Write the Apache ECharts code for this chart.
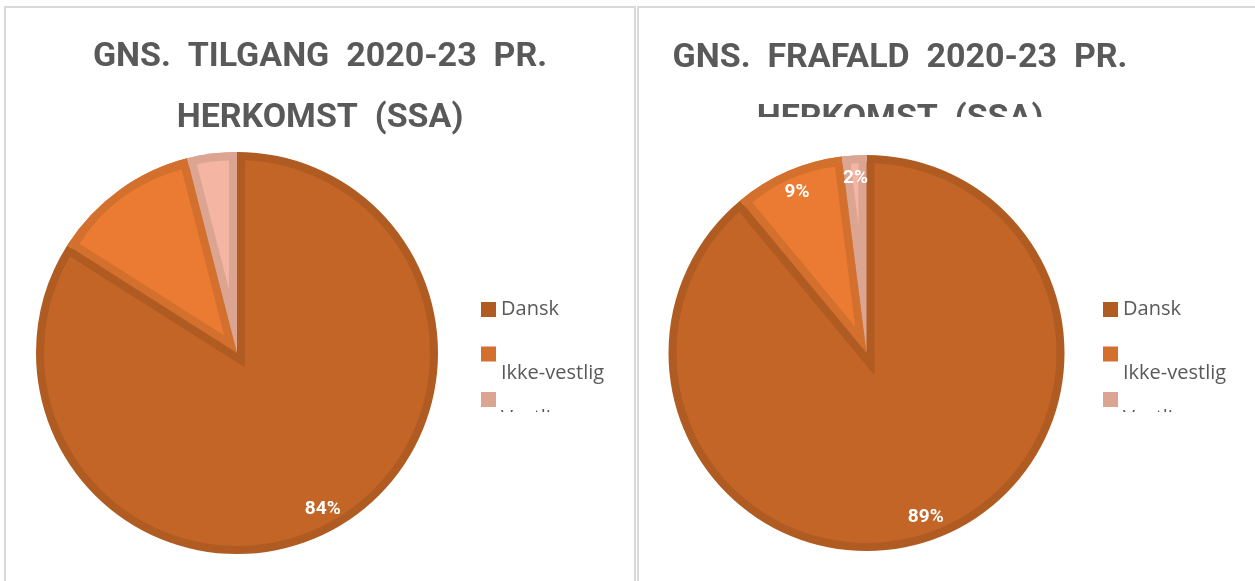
<!DOCTYPE html>
<html>
<head>
<meta charset="utf-8">
<script src="https://cdn.jsdelivr.net/npm/echarts@6/dist/echarts.min.js"></script>
<style>
html, body { margin: 0; padding: 0; width: 1255px; height: 581px; overflow: hidden; background: #fff; }
.panel { position: absolute; top: 6px; height: 600px; border: 2px solid #d9d9d9; border-bottom: none; box-sizing: border-box; }
#p1 { left: 4px; width: 632px; }
#p2 { left: 637px; width: 640px; }
.chart { position: absolute; top: 8px; height: 573px; }
#c1 { left: 6px; width: 628px; }
#c2 { left: 639px; width: 616px; }
</style>
</head>
<body>
<div class="panel" id="p1"></div>
<div class="panel" id="p2"></div>
<div class="chart" id="c1"></div>
<div class="chart" id="c2"></div>
<script>
// data
let categories = ['Dansk', 'Ikke-vestlig', 'Vestlig'];
let tilgangValues = [84, 12, 4];
let frafaldValues = [89, 9, 2];
let tilgangShowLabel = [true, false, false];
let frafaldShowLabel = [true, true, true];
let tilgangTitle = 'GNS.  TILGANG  2020-23  PR.\nHERKOMST  (SSA)';
let frafaldTitle = 'GNS.  FRAFALD  2020-23  PR.\nHERKOMST  (SSA)';

// farver: fyld og kant
let fillColors = ['#c36527', '#eb7b32', '#f4b6a2'];
let edgeColors = ['#b05b22', '#d4702d', '#dca592'];
let none = 'rgba(0,0,0,0)';
let edgePx = 8;

function dirOf(deg) {
    let a = deg * Math.PI / 180;
    return [Math.sin(a), -Math.cos(a)];
}

function pieLayer(center, radius, colors, extra) {
    return Object.assign({
        type: 'pie', silent: true, animation: false,
        center: center, radius: radius,
        startAngle: 90, clockwise: true,
        label: { show: false }, labelLine: { show: false },
        itemStyle: { borderWidth: 0 },
        data: categories.map((n, i) => ({ name: n, value: colors.values[i], itemStyle: { color: colors.c[i] } }))
    }, extra || {});
}

function buildOption(cfg) {
    let v = cfg.values;
    let total = v.reduce((a, b) => a + b, 0);
    let spans = v.map(x => x / total * 360);
    let starts = spans.map((s, i) => spans.slice(0, i).reduce((a, b) => a + b, 0));
    let c = cfg.center, R = cfg.r, Ri = cfg.r - edgePx;
    let series = [];

    // 1: hele cirklen i kantfarver
    series.push(pieLayer(c, [0, R], { values: v, c: edgeColors }));
    // 2: fyld for den store skive
    series.push(pieLayer(c, [0, Ri], { values: v, c: v.map(() => fillColors[0]) }));
    // 3: kant for den store skive langs de små skiver
    let spanC = 360 - spans[0];
    let midC = spans[0] + spanC / 2;
    let dC = edgePx / Math.sin(spanC / 2 * Math.PI / 180);
    let dirC = dirOf(midC);
    series.push(pieLayer([c[0] - dC * dirC[0], c[1] - dC * dirC[1]], [0, Ri + dC],
        { values: v, c: v.map((x, i) => i === 0 ? none : edgeColors[0]) }));
    // 4: de små skiver i kantfarver
    series.push(pieLayer(c, [0, R], { values: v, c: v.map((x, i) => i === 0 ? none : edgeColors[i]) }));
    // 5: fyld for de små skiver (forskudt ind)
    for (let i = 1; i < v.length; i++) {
        let d = edgePx / Math.sin(spans[i] / 2 * Math.PI / 180);
        let dir = dirOf(starts[i] + spans[i] / 2);
        series.push(pieLayer([c[0] + d * dir[0], c[1] + d * dir[1]], [0, Math.max(Ri - d, 0)],
            { values: v, c: v.map((x, j) => j === i ? fillColors[i] : none) }));
    }
    // 6: procent-etiketter
    series.push(pieLayer(c, [Ri - 36, Ri], { values: v, c: v.map(() => none) }, {
        label: {
            show: true, position: 'inside', formatter: '{c}%',
            color: '#fff', fontFamily: 'Roboto', fontWeight: 'bold', fontSize: 19
        },
        data: categories.map((n, i) => ({
            name: n, value: v[i], itemStyle: { color: none },
            label: { show: cfg.showLabel[i] }
        }))
    }));

    let legends = categories.map((n, i) => ({
        left: cfg.legendX, top: cfg.legendTops[i], orient: 'vertical', padding: 0,
        itemWidth: 15, itemHeight: 15, icon: 'rect', selectedMode: false,
        data: [{ name: n, itemStyle: { color: edgeColors[i] } }],
        formatter: i === 0 ? '{name}' : '\n{name}',
        textStyle: { fontFamily: 'Open Sans', fontSize: 20, color: '#595959', lineHeight: i === 0 ? 24 : 38 }
    }));
    return {
        animation: false,
        title: {
            text: cfg.title, left: cfg.titleX, top: cfg.titleTop, textAlign: 'center', padding: 0,
            textStyle: {
                fontFamily: 'Roboto', fontWeight: 'bold', fontSize: 34,
                color: '#595959', lineHeight: cfg.titleLine
            }
        },
        legend: legends,
        graphic: cfg.covers.map(r => ({
            type: 'rect', z: 100, silent: true,
            shape: { x: r[0], y: r[1], width: r[2], height: r[3] },
            style: { fill: '#fff' }
        })),
        series: series
    };
}

let chart1 = echarts.init(document.getElementById('c1'));
chart1.setOption(buildOption({
    title: tilgangTitle, titleX: 314, titleTop: 19, titleLine: 61,
    center: [231, 345], r: 201, values: tilgangValues, showLabel: tilgangShowLabel,
    legendX: 475, legendTops: [289.5, 308, 353.5],
    covers: [[490, 404, 138, 40]]
}));

let chart2 = echarts.init(document.getElementById('c2'));
chart2.setOption(buildOption({
    title: frafaldTitle, titleX: 261, titleTop: 19.5, titleLine: 61,
    center: [227.5, 345], r: 198, values: frafaldValues, showLabel: frafaldShowLabel,
    legendX: 464, legendTops: [289.5, 308, 353.5],
    covers: [[60, 109, 420, 34], [479, 404, 137, 40]]
}));
</script>
</body>
</html>
